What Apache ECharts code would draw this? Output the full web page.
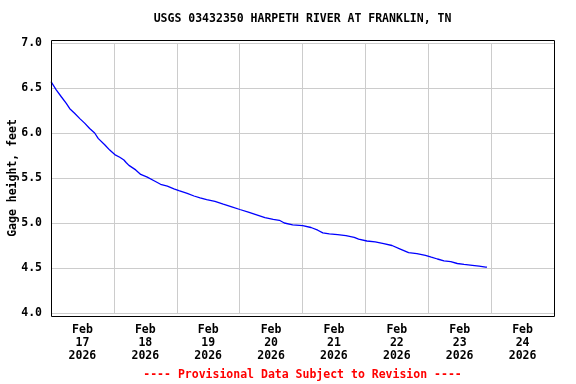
<!DOCTYPE html>
<html>
<head>
<meta charset="utf-8">
<script src="https://cdn.jsdelivr.net/npm/echarts@6/dist/echarts.min.js"></script>
<style>
html,body{margin:0;padding:0;background:#fff;}
#chart{width:576px;height:384px;}
</style>
</head>
<body>
<div id="chart"></div>
<script>
// ---- Data ----
const chartTitle = 'USGS 03432350 HARPETH RIVER AT FRANKLIN, TN';
const yAxisName = 'Gage height, feet';
const footerText = '---- Provisional Data Subject to Revision ----';
const startTime = '2026-02-17T00:00';
const dayLabels = ['Feb\n17\n2026','Feb\n18\n2026','Feb\n19\n2026','Feb\n20\n2026','Feb\n21\n2026','Feb\n22\n2026','Feb\n23\n2026','Feb\n24\n2026'];
const yTicks = [4.0, 4.5, 5.0, 5.5, 6.0, 6.5, 7.0];
const times = [
  '2026-02-17T00:00','2026-02-17T02:00','2026-02-17T04:00','2026-02-17T05:50','2026-02-17T07:10',
  '2026-02-17T09:00','2026-02-17T11:00','2026-02-17T12:50','2026-02-17T14:45','2026-02-17T16:40',
  '2026-02-17T18:00','2026-02-17T20:30','2026-02-17T22:25','2026-02-18T00:20','2026-02-18T02:15',
  '2026-02-18T03:50','2026-02-18T04:45','2026-02-18T05:45','2026-02-18T08:20','2026-02-18T10:15',
  '2026-02-18T12:45','2026-02-18T15:20','2026-02-18T17:50','2026-02-18T20:25','2026-02-18T22:55',
  '2026-02-19T00:50','2026-02-19T04:00','2026-02-19T06:35','2026-02-19T08:55','2026-02-19T11:25',
  '2026-02-19T14:35','2026-02-19T17:45','2026-02-19T21:00','2026-02-20T00:05','2026-02-20T03:20',
  '2026-02-20T06:30','2026-02-20T09:40','2026-02-20T12:50','2026-02-20T15:10','2026-02-20T17:05',
  '2026-02-20T20:15','2026-02-21T00:05','2026-02-21T03:15','2026-02-21T05:50','2026-02-21T07:45',
  '2026-02-21T10:15','2026-02-21T13:25','2026-02-21T16:35','2026-02-21T19:45','2026-02-21T21:25',
  '2026-02-22T00:35','2026-02-22T03:45','2026-02-22T07:00','2026-02-22T10:10','2026-02-22T13:20',
  '2026-02-22T16:30','2026-02-22T19:40','2026-02-22T22:55','2026-02-23T01:10','2026-02-23T03:30',
  '2026-02-23T06:00','2026-02-23T08:35','2026-02-23T11:05','2026-02-23T13:40','2026-02-23T16:50',
  '2026-02-23T19:25','2026-02-23T21:55','2026-02-23T22:25'
];
const gageHeight = [
  6.57,6.48,6.40,6.33,6.27,
  6.22,6.16,6.11,6.05,6.00,
  5.94,5.87,5.81,5.76,5.73,
  5.70,5.67,5.64,5.59,5.54,
  5.51,5.47,5.43,5.41,5.38,
  5.36,5.33,5.30,5.28,5.26,
  5.24,5.21,5.18,5.15,5.12,
  5.09,5.06,5.04,5.03,5.00,
  4.98,4.97,4.95,4.92,4.89,
  4.88,4.87,4.86,4.84,4.82,
  4.80,4.79,4.77,4.75,4.71,
  4.67,4.66,4.64,4.62,4.60,
  4.58,4.57,4.55,4.54,4.53,
  4.52,4.51,4.51
];

// ---- Build ----
const t0 = new Date(startTime).getTime();
const hours = times.map(t => (new Date(t).getTime() - t0) / 3600000);
const seriesData = hours.map((h, i) => [h, gageHeight[i]]);
const nDays = dayLabels.length;

const FONT = '"DejaVu Sans Mono", "Liberation Mono", monospace';
const chart = echarts.init(document.getElementById('chart'), null, {renderer: 'canvas'});
const G = {left: 51, right: 22, top: 43, bottom: 71, containLabel: false, outerBoundsMode: 'none'};
const plotW = 576 - G.left - G.right;
const plotCx = G.left + plotW / 2;

chart.setOption({
  animation: false,
  backgroundColor: '#ffffff',
  grid: G,
  xAxis: [
    {
      type: 'value', min: 0, max: nDays * 24, interval: 24,
      axisLine: {show: false}, axisTick: {show: false}, axisLabel: {show: false},
      splitLine: {show: true, lineStyle: {color: '#cccccc', width: 1}}
    },
    {
      type: 'category', data: dayLabels, boundaryGap: true, position: 'bottom',
      axisLine: {show: false}, axisTick: {show: false}, splitLine: {show: false},
      axisLabel: {
        interval: 0, margin: 11, color: '#000', fontFamily: FONT, fontWeight: 'bold',
        fontSize: 11.5, lineHeight: 13
      }
    }
  ],
  yAxis: {
    type: 'value', min: yTicks[0], max: yTicks[yTicks.length - 1], interval: 0.5,
    name: yAxisName, nameLocation: 'middle', nameGap: 32, nameRotate: 90,
    nameMoveOverlap: false,
    nameTextStyle: {color: '#000', fontFamily: FONT, fontWeight: 'bold', fontSize: 11.5},
    axisLine: {show: false}, axisTick: {show: false},
    axisLabel: {
      margin: 9, color: '#000', fontFamily: FONT, fontWeight: 'bold', fontSize: 11.5,
      formatter: v => v.toFixed(1)
    },
    splitLine: {show: true, lineStyle: {color: '#cccccc', width: 1}}
  },
  series: [{
    type: 'line', xAxisIndex: 0, data: seriesData, showSymbol: false, symbol: 'none',
    lineStyle: {color: '#0000ff', width: 1.3}, z: 3
  }],
  graphic: [
    {
      type: 'rect', silent: true, z: 10,
      shape: {x: G.left + 0.5, y: 40.5, width: plotW, height: 276},
      style: {fill: 'none', stroke: '#000', lineWidth: 1}
    },
    {
      type: 'text', x: plotCx, y: 19, z: 10,
      style: {text: chartTitle, align: 'center', verticalAlign: 'middle', fill: '#000',
        font: 'bold 11.5px ' + FONT}
    },
    {
      type: 'text', x: plotCx, y: 375, z: 10,
      style: {text: footerText, align: 'center', verticalAlign: 'middle', fill: '#ff0000',
        font: 'bold 11.5px ' + FONT}
    }
  ]
});
</script>
</body>
</html>
